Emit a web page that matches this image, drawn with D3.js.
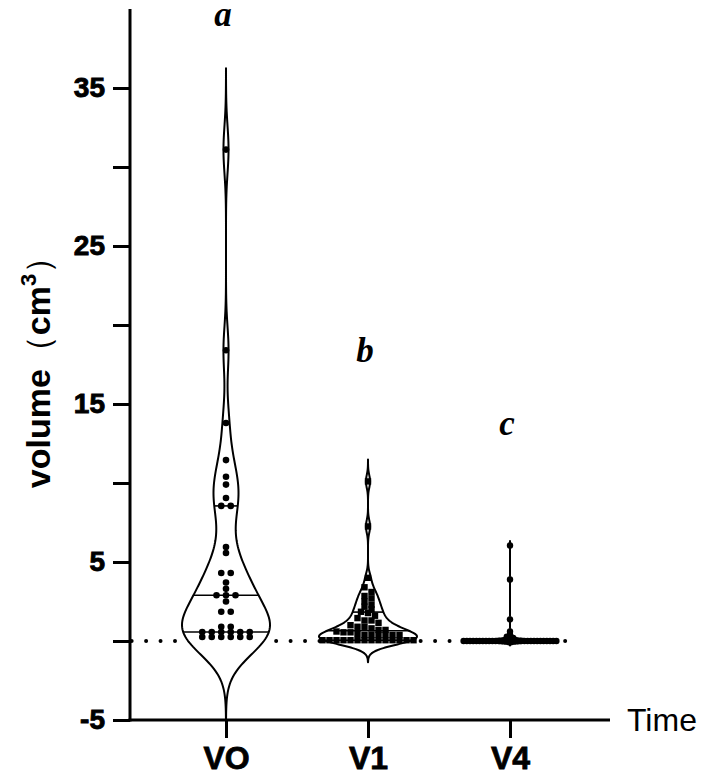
<!DOCTYPE html>
<html>
<head>
<meta charset="utf-8">
<script src="https://cdn.jsdelivr.net/npm/d3@7"></script>
<style>
  html, body { margin: 0; padding: 0; background: #fff; }
  svg { display: block; }
</style>
</head>
<body>
<svg id="chart" width="709" height="782"></svg>
<script>
// ---------------- data ----------------
const categories = ["VO", "V1", "V4"];
const groupLetters = ["a", "b", "c"];
const letterValues = [38.9, 17.66, 13.04];

const v0Values = [31.1, 18.4, 13.8, 11.45, 10.4, 9.9, 9.05, 8.55, 8.55,
  5.95, 5.57, 4.3, 4.3, 3.7, 3.3, 2.9, 2.9, 2.9, 2.5, 1.85, 1.85,
  0.9, 0.9, 0.57, 0.57, 0.57, 0.57, 0.57, 0.57,
  0.25, 0.25, 0.25, 0.25, 0.25, 0.25];

const v1Values = [10.1, 7.25, 4.0, 3.4, 3.1, 2.85, 2.7, 2.5, 2.3, 2.17, 2.0,
  1.85, 1.77, 1.6, 1.45, 1.3, 1.3, 1.15, 1.0, 0.9, 0.9, 0.8, 0.7, 0.7,
  0.6, 0.55, 0.55, 0.45,
  0.38, 0.38, 0.38, 0.38, 0.38, 0.38,
  0.05, 0.05, 0.05, 0.05, 0.05, 0.05, 0.05, 0.05, 0.05, 0.05, 0.05, 0.05, 0.05, 0.05];

const v4Values = [6.05, 3.9, 1.37, 0.6, 0.4, 0.27, 0.2, 0.2,
  0, 0, 0, 0, 0, 0, 0, 0, 0, 0, 0, 0, 0, 0, 0, 0, 0, 0, 0, 0,
  0, 0, 0, 0, 0, 0, 0, 0, 0, 0];

const yTickValues = [-5, 0, 5, 10, 15, 20, 25, 30, 35];
const yTickLabels = ["-5", "", "5", "", "15", "", "25", "", "35"];

// ---------------- settings ----------------
const groups = [v0Values, v1Values, v4Values];
const bandwidths = [1.5, 0.4, 0.08];
const halfWidths = [44, 49, 47];
const dotSpacing = [9.5, 7, 3.2];
const rowHeights = [3, 4.9, 2];
const markerShape = ["circle", "square", "circle"];

const svg = d3.select("#chart");
const y = d3.scaleLinear().domain([-5, 40]).range([720, 9]);
const x = d3.scalePoint().domain(categories).range([226, 510]);

// zero dotted line
svg.append("line")
  .attr("x1", 131.65).attr("x2", 567)
  .attr("y1", y(0)).attr("y2", y(0))
  .attr("stroke", "#000").attr("stroke-width", 4)
  .attr("stroke-linecap", "round")
  .attr("stroke-dasharray", "0,14.45");

function densityAt(values, h, v) {
  let s = 0;
  for (const xv of values) { const u = (v - xv) / h; s += Math.exp(-0.5 * u * u); }
  return s / (values.length * h * Math.sqrt(2 * Math.PI));
}
function kde(values, h, lo, hi, step) {
  const out = [];
  for (let v = lo; v <= hi + 1e-9; v += step) out.push([v, densityAt(values, h, v)]);
  return out;
}
// (n+1)p quantile
function quantile6(sorted, p) {
  const n = sorted.length;
  const pos = (n + 1) * p;
  if (pos <= 1) return sorted[0];
  if (pos >= n) return sorted[n - 1];
  const i = Math.floor(pos), f = pos - i;
  return sorted[i - 1] + f * (sorted[i] - sorted[i - 1]);
}

groups.forEach((vals, gi) => {
  const cx = x(categories[gi]);
  const h = bandwidths[gi];
  const ext = 3.5 * h;
  const lo = d3.min(vals) - ext, hi = d3.max(vals) + ext;
  const dens = kde(vals, h, lo, hi, h / 12);
  const maxD = d3.max(dens, d => d[1]);
  const wScale = d3.scaleLinear().domain([0, maxD]).range([0, halfWidths[gi]]);

  const area = d3.area()
    .y(d => y(d[0]))
    .x0(d => cx - wScale(d[1]))
    .x1(d => cx + wScale(d[1]));

  svg.append("path")
    .datum(dens)
    .attr("d", area)
    .attr("fill", "#fff")
    .attr("stroke", "#000")
    .attr("stroke-width", 2)
    .attr("stroke-linejoin", "round");

  // quartile lines
  const sorted = vals.slice().sort((a, b) => a - b);
  [0.25, 0.5, 0.75].forEach(p => {
    const q = quantile6(sorted, p);
    const w = wScale(densityAt(vals, h, q));
    svg.append("line")
      .attr("x1", cx - w).attr("x2", cx + w)
      .attr("y1", y(q)).attr("y2", y(q))
      .attr("stroke", "#000").attr("stroke-width", 1.6);
  });

  // points grouped into rows by pixel height, spread symmetrically
  const desc = vals.slice().sort((a, b) => b - a);
  const rows = [];
  desc.forEach(v => {
    const last = rows[rows.length - 1];
    if (last && Math.abs(y(v) - y(last[0])) <= rowHeights[gi]) last.push(v);
    else rows.push([v]);
  });
  const g = svg.append("g");
  rows.forEach(row => {
    const k = row.length;
    row.forEach((v, i) => {
      const px = cx + (i - (k - 1) / 2) * dotSpacing[gi];
      const py = y(v);
      if (markerShape[gi] === "circle") {
        g.append("circle").attr("cx", px).attr("cy", py)
          .attr("r", gi === 0 ? 3.3 : 3.2).attr("fill", "#000");
      } else {
        g.append("rect").attr("x", px - 3.2).attr("y", py - 3.2)
          .attr("width", 6.4).attr("height", 6.4).attr("fill", "#000");
      }
    });
  });

  // significance letter
  svg.append("text")
    .attr("x", cx - 3)
    .attr("y", y(letterValues[gi]))
    .attr("text-anchor", "middle")
    .attr("font-family", "'Liberation Serif', 'Times New Roman', serif")
    .attr("font-style", "italic")
    .attr("font-weight", "bold")
    .attr("font-size", 35)
    .text(groupLetters[gi]);
});

// ---------------- axes ----------------
const yAxis = d3.axisLeft(y)
  .tickValues(yTickValues)
  .tickFormat((d, i) => yTickLabels[i])
  .tickSize(17)
  .tickSizeOuter(0)
  .tickPadding(8);
const gy = svg.append("g").attr("transform", "translate(130,0)").call(yAxis);
gy.select(".domain").remove();
gy.selectAll(".tick line").attr("stroke", "#000").attr("stroke-width", 3);
gy.selectAll(".tick text")
  .attr("font-family", "'Liberation Sans', Arial, sans-serif")
  .attr("font-weight", "bold")
  .attr("font-size", 28)
  .attr("stroke", "#000").attr("stroke-width", 0.9)
  .attr("fill", "#000");
svg.append("line").attr("x1", 130).attr("x2", 130)
  .attr("y1", y(40)).attr("y2", y(-5) + 1.5)
  .attr("stroke", "#000").attr("stroke-width", 3);

const xAxis = d3.axisBottom(x).tickSize(18).tickSizeOuter(0).tickPadding(8);
const gx = svg.append("g").attr("transform", `translate(0,${y(-5)})`).call(xAxis);
gx.select(".domain").remove();
gx.selectAll(".tick line").attr("stroke", "#000").attr("stroke-width", 3);
gx.selectAll(".tick text")
  .attr("font-family", "'Liberation Sans', Arial, sans-serif")
  .attr("font-weight", "bold")
  .attr("font-size", 32)
  .attr("stroke", "#000").attr("stroke-width", 0.8)
  .attr("fill", "#000");
svg.append("line").attr("x1", 128.5).attr("x2", 610)
  .attr("y1", y(-5)).attr("y2", y(-5))
  .attr("stroke", "#000").attr("stroke-width", 3);

svg.append("text")
  .attr("x", 627).attr("y", y(-5) + 11)
  .attr("font-family", "'Liberation Sans', Arial, sans-serif")
  .attr("font-size", 32)
  .attr("fill", "#000")
  .text("Time");

// y title
const yt = svg.append("text")
  .attr("transform", "translate(50,364) rotate(-90)")
  .attr("text-anchor", "middle")
  .attr("font-family", "'Liberation Sans', Arial, sans-serif")
  .attr("font-weight", "bold")
  .attr("font-size", 34)
  .attr("fill", "#000");
yt.append("tspan").text("volume");
yt.append("tspan").attr("font-weight", "normal").text("（");
yt.append("tspan").text("cm");
yt.append("tspan").attr("font-size", 22).attr("dy", -14).text("3");
yt.append("tspan").attr("font-weight", "normal").attr("dy", 14).text("）");
</script>
</body>
</html>
